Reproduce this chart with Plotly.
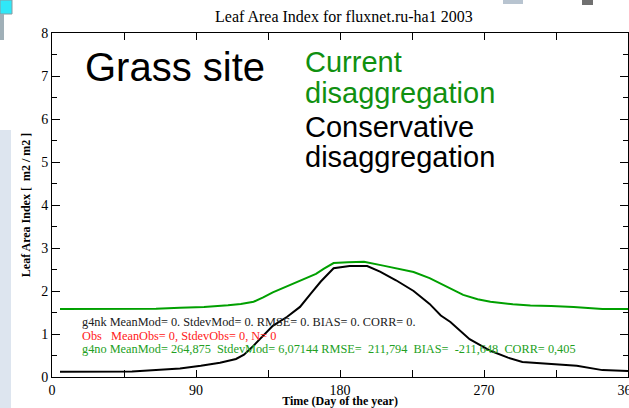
import plotly.graph_objects as go

# ---- data ----
days_current = [5, 20, 35, 50, 65, 80, 95, 110, 118, 126, 132, 138, 145, 156, 165, 170, 176, 185, 195, 207, 217, 226, 236, 245, 257, 266, 274, 288, 299, 312, 326, 344, 360]
lai_current = [1.58, 1.58, 1.58, 1.58, 1.59, 1.61, 1.63, 1.67, 1.70, 1.75, 1.85, 1.97, 2.08, 2.24, 2.40, 2.52, 2.65, 2.67, 2.68, 2.59, 2.52, 2.44, 2.30, 2.13, 1.91, 1.81, 1.75, 1.69, 1.66, 1.65, 1.63, 1.58, 1.58]

days_conservative = [5, 20, 35, 50, 65, 80, 93, 105, 115, 120, 126, 132, 138, 147, 155, 162, 168, 176, 186, 197, 205, 215, 226, 236, 243, 249, 261, 274, 285, 294, 311, 328, 344, 360]
lai_conservative = [0.12, 0.12, 0.12, 0.13, 0.16, 0.20, 0.26, 0.33, 0.42, 0.52, 0.73, 0.95, 1.19, 1.40, 1.63, 1.95, 2.22, 2.53, 2.58, 2.58, 2.45, 2.25, 2.00, 1.70, 1.43, 1.28, 0.88, 0.61, 0.45, 0.35, 0.30, 0.26, 0.16, 0.14]

x_tickvals = [0, 45, 90, 135, 180, 225, 270, 315, 360]
x_ticktext = ["0", "", "90", "", "180", "", "270", "", "360"]
y_tickvals = [0, 1, 2, 3, 4, 5, 6, 7, 8]

title_text = "Leaf Area Index for fluxnet.ru-ha1 2003"
xtitle_text = "Time (Day of the year)"
ytitle_text = "Leaf Area Index [\u00a0 m2 / m2 ]"
stat_lines = [
    ("g4nk MeanMod= 0. StdevMod= 0. RMSE= 0. BIAS= 0. CORR= 0.", "#202020"),
    ("Obs\u00a0\u00a0\u00a0MeanObs= 0, StdevObs= 0, N= 0", "#ff2020"),
    ("g4no MeanMod= 264,875\u00a0 StdevMod= 6,07144 RMSE=\u00a0 211,794\u00a0 BIAS=\u00a0 -211,648\u00a0 CORR= 0,405", "#22a022"),
]

GREEN = "#109010"
SERIF = "Liberation Serif"
SANS = "Liberation Sans"

fig = go.Figure()
fig.add_trace(go.Scatter(x=days_current, y=lai_current, mode="lines",
                         line=dict(color="#00a000", width=2), showlegend=False))
fig.add_trace(go.Scatter(x=days_conservative, y=lai_conservative, mode="lines",
                         line=dict(color="black", width=2), showlegend=False))

# plot area geometry helpers (pixels -> paper)
L, T, W, H = 52, 33, 576, 344
def px(xp):
    return (xp - L) / W
def py(yp):
    return (T + H - yp) / H

annotations = []
annotations.append(dict(text=title_text, x=px(344), y=py(17), xref="paper", yref="paper",
                        showarrow=False, xanchor="center", yanchor="middle",
                        font=dict(family=SERIF, size=16, color="black")))
annotations.append(dict(text="Grass site", x=px(83), y=py(67), xref="paper", yref="paper",
                        showarrow=False, xanchor="left", yanchor="middle",
                        font=dict(family=SANS, size=40, color="black")))
big_lines = [("Current", GREEN, 62), ("disaggregation", GREEN, 93),
             ("Conservative", "black", 127), ("disaggregation", "black", 157)]
for txt, col, yc in big_lines:
    annotations.append(dict(text=txt, x=px(303), y=py(yc), xref="paper", yref="paper",
                            showarrow=False, xanchor="left", yanchor="middle",
                            font=dict(family=SANS, size=29, color=col)))
for i, (txt, col) in enumerate(stat_lines):
    annotations.append(dict(text=txt, x=px(80), y=py(322 + 13.5 * i), xref="paper", yref="paper",
                            showarrow=False, xanchor="left", yanchor="middle",
                            font=dict(family=SERIF, size=12.3, color=col)))

shapes = [
    # slide remnants around the chart
    dict(type="rect", xref="paper", yref="paper", x0=px(0), x1=px(11), y0=py(408), y1=py(130),
         fillcolor="#dde5ef", line=dict(width=0), layer="below"),
    dict(type="rect", xref="paper", yref="paper", x0=px(0), x1=px(12), y0=py(14), y1=py(0),
         fillcolor="#30e8f8", line=dict(color="#8a9aa0", width=1), layer="below"),
    dict(type="rect", xref="paper", yref="paper", x0=px(0), x1=px(4), y0=py(40), y1=py(14),
         fillcolor="#a0b0b8", line=dict(width=0), layer="below"),
    dict(type="rect", xref="paper", yref="paper", x0=px(503), x1=px(523), y0=py(4), y1=py(0),
         fillcolor="#b8c4d0", line=dict(width=0), layer="below"),
    dict(type="rect", xref="paper", yref="paper", x0=px(582), x1=px(593), y0=py(5), y1=py(0),
         fillcolor="#707070", line=dict(width=0), layer="below"),
]

fig.update_layout(
    width=629, height=408,
    margin=dict(l=L, r=629 - L - W, t=T, b=408 - T - H, pad=0),
    paper_bgcolor="white", plot_bgcolor="white",
    template="none",
    showlegend=False,
    annotations=annotations,
    shapes=shapes,
    xaxis=dict(range=[0, 360], tickmode="array", tickvals=x_tickvals, ticktext=x_ticktext,
               ticks="inside", ticklen=7, tickcolor="black", showline=True, linecolor="black",
               linewidth=1, mirror="ticks", showgrid=False, zeroline=False, automargin=False,
               ticklabeloverflow="allow",
               tickfont=dict(family=SERIF, size=14, color="black"),
               title=dict(text="<b>" + xtitle_text + "</b>", standoff=1,
                          font=dict(family=SERIF, size=12, color="black"))),
    yaxis=dict(range=[0, 8], tickmode="array", tickvals=y_tickvals,
               ticks="inside", ticklen=8, tickcolor="black", showline=True, linecolor="black",
               linewidth=1, mirror="ticks", showgrid=False, zeroline=False, automargin=False,
               minor=dict(dtick=0.5, ticks="inside", ticklen=5, tickcolor="black", showgrid=False),
               tickfont=dict(family=SERIF, size=14, color="black"),
               title=dict(text="<b>" + ytitle_text + "</b>", standoff=8,
                          font=dict(family=SERIF, size=12, color="black"))),
)

fig.write_html("out.html", config={"displayModeBar": False},
               post_script="document.body.style.margin='0';document.body.style.padding='0';")
